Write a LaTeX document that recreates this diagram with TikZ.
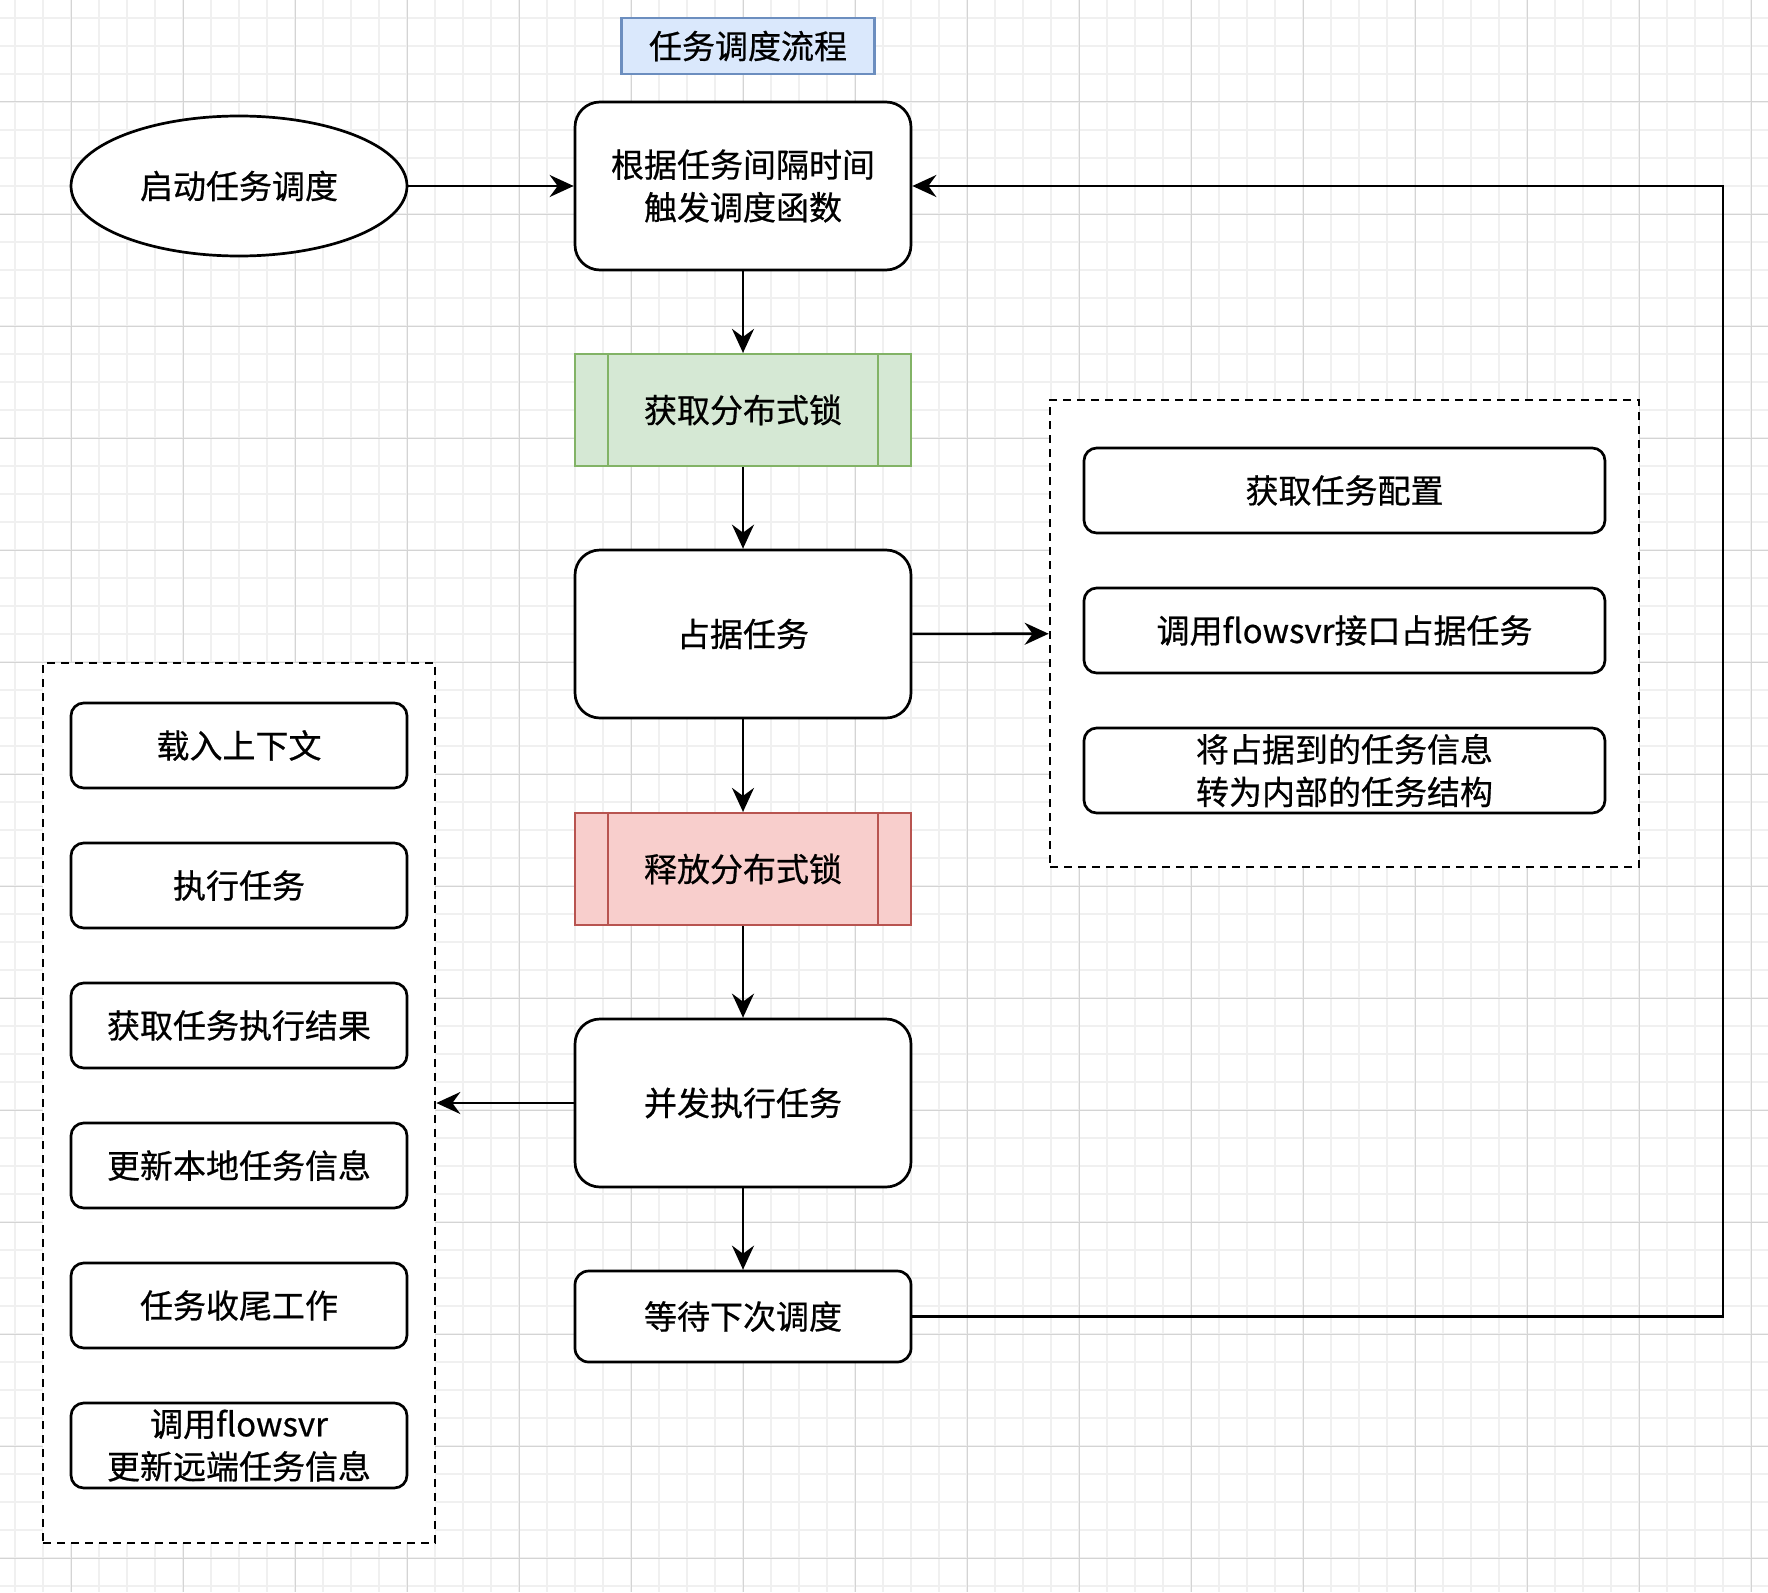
\documentclass[tikz,border=0pt]{standalone}
\usepackage{fontspec}
\setmainfont{Noto Sans CJK SC}[FakeBold=0.6]
\usetikzlibrary{arrows.meta,positioning,shapes.geometric}

\definecolor{gridminor}{RGB}{240,240,240}
\definecolor{gridmajor}{RGB}{212,212,212}
\definecolor{titlefill}{HTML}{DAE8FC}
\definecolor{titleline}{HTML}{6C8EBF}
\definecolor{greenfill}{HTML}{D5E8D4}
\definecolor{greenline}{HTML}{82B366}
\definecolor{redfill}{HTML}{F8CECC}
\definecolor{redline}{HTML}{B85450}

\tikzset{
  txt/.style={font=\fontsize{33pt}{42.6pt}\selectfont, align=center, inner sep=0pt},
  stepbox/.style={txt, draw, fill=white, line width=2.7pt, rounded corners=25pt,
    minimum width=336pt, minimum height=168pt},
  itembox/.style={txt, draw, fill=white, line width=2.7pt, rounded corners=12.75pt,
    minimum height=85pt},
  lockbox/.style={txt, draw, line width=2.2pt, minimum width=336pt, minimum height=112pt},
  group/.style={draw, fill=white, dash pattern=on 8pt off 6pt, line width=2.7pt},
  flow/.style={line width=2.6pt, -{Stealth[length=24pt,width=22pt,inset=8pt]}},
}

\begin{document}
\begin{tikzpicture}[x=1pt,y=-1pt]
  \useasboundingbox (0,0) rectangle (1768,1592);
  \fill[white] (0,0) rectangle (1768,1592);

  % Hintergrund-Raster
  \foreach \x in {15,43,...,1751} {
      \draw[gridminor,line width=1.5pt] (\x,0) -- (\x,1592);
    }
  \foreach \y in {18,46,...,1586} {
      \draw[gridminor,line width=1.5pt] (0,\y) -- (1768,\y);
    }
  \foreach \x in {71,183,...,1751} {
      \draw[gridmajor,line width=1pt] (\x,0) -- (\x,1592);
    }
  \foreach \y in {102,214,...,1558} {
      \draw[gridmajor,line width=1pt] (0,\y) -- (1768,\y);
    }

  % Titel
  \node[txt, draw=titleline, fill=titlefill, line width=2.2pt,
    minimum width=253pt, minimum height=56pt] (title) at (748,46) {任务调度流程};

  % Hauptablauf
  \node[txt, ellipse, draw, fill=white, line width=2.7pt,
    minimum width=336pt, minimum height=140pt] (start) at (239,186) {启动任务调度};
  \node[stepbox] (sched) at (743,186) {根据任务间隔时间\\触发调度函数};
  \node[lockbox, draw=greenline, fill=greenfill] (lock) at (743,410) {获取分布式锁};
  \node[stepbox] (grab) at (743,634) {占据任务};
  \node[lockbox, draw=redline, fill=redfill] (unlock) at (743,869) {释放分布式锁};
  \node[stepbox] (run) at (743,1103) {并发执行任务};
  \node[stepbox, minimum height=91pt, rounded corners=13.7pt] (wait) at (743,1316.5) {等待下次调度};

  \foreach \n/\c in {lock/greenline, unlock/redline} {
      \draw[\c,line width=2.2pt] ([xshift=34pt]\n.north west) -- ([xshift=34pt]\n.south west);
      \draw[\c,line width=2.2pt] ([xshift=-34pt]\n.north east) -- ([xshift=-34pt]\n.south east);
    }

  % Gruppe rechts
  \node[group, minimum width=589pt, minimum height=467pt] (grpR) at (1344.5,633.5) {};
  \foreach \i/\t in {1/获取任务配置, 2/调用flowsvr接口占据任务, 3/{将占据到的任务信息\\转为内部的任务结构}} {
      \node[itembox, minimum width=521pt] (r\i) at (1344.5,350.5+140*\i) {\t};
    }

  % Gruppe links
  \node[group, minimum width=392pt, minimum height=880pt] (grpL) at (239,1103) {};
  \foreach \i/\t in {1/载入上下文, 2/执行任务, 3/获取任务执行结果, 4/更新本地任务信息,
      5/任务收尾工作, 6/{调用flowsvr\\更新远端任务信息}} {
      \node[itembox, minimum width=336pt] (l\i) at (239,605.5+140*\i) {\t};
    }

  % Verbindungen
  \draw[flow] (start) -- (sched);
  \draw[flow] (sched) -- (lock);
  \draw[flow] (lock) -- (grab);
  \draw[flow] (grab) -- (unlock);
  \draw[flow] (unlock) -- (run);
  \draw[flow] (run) -- (wait);
  \draw[flow] (grab) -- (grpR);
  \draw[flow] (run) -- (grpL);
  \coordinate (loop) at (1723,186);
  \draw[flow] (wait.east) -| (loop) -- (sched.east);
\end{tikzpicture}
\end{document}
